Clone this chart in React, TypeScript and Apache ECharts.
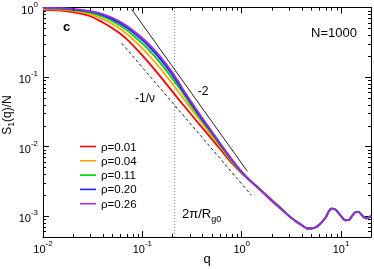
import { useEffect, useRef } from 'react';
import * as echarts from 'echarts';

const FONT = '"Liberation Sans", Arial, Helvetica, sans-serif';

// q grid (x values)
const qValues = [0.01, 0.015, 0.02, 0.03, 0.04, 0.05, 0.06, 0.07, 0.08, 0.1, 0.12, 0.15, 0.2, 0.25, 0.3, 0.4, 0.5, 0.6, 0.8, 1.0, 1.2, 1.5, 2, 2.5,
  3, 3.5, 4, 4.5, 5, 5.5, 6, 7, 7.5, 8, 8.5, 9, 10, 11, 12, 13, 14, 15, 16, 17, 18, 19, 20];

// S1(q)/N, q = 0.01 .. 2.5
const rho001Head = [0.927, 0.906, 0.857, 0.749, 0.608, 0.503, 0.418, 0.347, 0.288, 0.2055, 0.1524, 0.1037, 0.0621, 0.042, 0.0306, 0.01868, 0.0128, 0.00937, 0.00572, 0.0041, 0.00328, 0.0025, 0.00172, 0.00129];
const rho004Head = [0.952, 0.935, 0.895, 0.802, 0.68, 0.578, 0.49, 0.414, 0.351, 0.259, 0.1956, 0.1349, 0.0801, 0.0527, 0.0372, 0.0219, 0.0142, 0.0102, 0.006, 0.00415, 0.00331, 0.00249, 0.00171, 0.00128];
const rho011Head = [0.97, 0.956, 0.922, 0.841, 0.736, 0.637, 0.548, 0.469, 0.403, 0.304, 0.233, 0.1622, 0.0957, 0.0618, 0.0415, 0.0234, 0.0153, 0.0107, 0.00618, 0.0042, 0.00328, 0.00248, 0.00169, 0.00127];
const rho020Head = [0.982, 0.971, 0.942, 0.869, 0.777, 0.68, 0.591, 0.51, 0.443, 0.339, 0.262, 0.1838, 0.1081, 0.0665, 0.045, 0.0248, 0.016, 0.0111, 0.00635, 0.00428, 0.00329, 0.00246, 0.00167, 0.00126];
const rho026Head = [0.99, 0.98, 0.955, 0.888, 0.806, 0.711, 0.623, 0.541, 0.472, 0.3655, 0.2846, 0.2002, 0.1175, 0.071, 0.0475, 0.0259, 0.0165, 0.0114, 0.00648, 0.00435, 0.0033, 0.00245, 0.00166, 0.00125];
// common high-q part, q = 3 .. 20 (curves coincide)
const sharedTail = [0.001, 0.000843, 0.000744, 0.000668, 0.000663, 0.000685, 0.000744, 0.000952, 0.00116, 0.00128, 0.00127, 0.0012, 0.001, 0.000869, 0.000878, 0.00102, 0.00114, 0.00114, 0.00105, 0.000958, 0.000927, 0.000952, 0.001];

const seriesNames = ['ρ=0.01', 'ρ=0.04', 'ρ=0.11', 'ρ=0.20', 'ρ=0.26'];
const seriesColors = ['#ff0000', '#ffa500', '#00d000', '#2020ff', '#9b30d9'];
const seriesHeads = [rho001Head, rho004Head, rho011Head, rho020Head, rho026Head];

// guide lines
const slope2Q = [0.078, 1.14];
const slope2S = [0.94, 0.0044];
const slopeNuQ = [0.062, 1.25];
const slopeNuS = [0.306, 0.002];
const qRg0 = 0.211;

// axes
const xMin = 0.01, xMax = 20, yMin = 0.0005, yMax = 1;
const xMinorTicks = [0.02, 0.03, 0.04, 0.05, 0.06, 0.07, 0.08, 0.09, 0.2, 0.3, 0.4, 0.5, 0.6, 0.7, 0.8, 0.9, 2, 3, 4, 5, 6, 7, 8, 9];
const yMinorTicks = [0.0006, 0.0007, 0.0008, 0.0009, 0.002, 0.003, 0.004, 0.005, 0.006, 0.007, 0.008, 0.009, 0.02, 0.03, 0.04, 0.05, 0.06, 0.07, 0.08, 0.09, 0.2, 0.3, 0.4, 0.5, 0.6, 0.7, 0.8, 0.9];

const powLabel = (v: number) => {
  const e = Math.log10(v);
  const r = Math.round(e);
  if (Math.abs(e - r) > 1e-6) return '';
  return `{b|10}{s|${r}}`;
};
const tickRich = {
  b: { fontSize: 11, fontFamily: FONT, color: '#000', lineHeight: 15, verticalAlign: 'bottom' },
  s: { fontSize: 8, fontFamily: FONT, color: '#000', verticalAlign: 'top' },
};

export default function App() {
  const ref = useRef<HTMLDivElement>(null);
  useEffect(() => {
    const chart = echarts.init(ref.current!, null, { renderer: 'svg' });
    const curveSeries = seriesHeads.map((head, i) => ({
      name: seriesNames[i],
      type: 'line',
      data: qValues.map((q, k) => [q, head.concat(sharedTail)[k]]),
      showSymbol: false,
      symbol: 'none',
      smooth: 0.3,
      lineStyle: { color: seriesColors[i], width: 1.8 },
      itemStyle: { color: seriesColors[i] },
      z: 3 + i,
      silent: true,
    }));
    const tickData: number[][] = [
      ...xMinorTicks.map((v) => [v, 0.001, 0]),
      ...yMinorTicks.map((v) => [0.1, v, 1]),
    ];
    const option: any = {
      animation: false,
      grid: { left: 43, right: 2.5, top: 7, bottom: 32, containLabel: false },
      xAxis: [
        {
          type: 'log', logBase: 10, min: xMin, max: xMax, position: 'bottom',
          axisLine: { show: true, onZero: false, lineStyle: { color: '#000', width: 1 } },
          axisTick: { show: true, inside: true, length: 6, lineStyle: { color: '#000' } },
          axisLabel: { show: true, formatter: powLabel, rich: tickRich, margin: 2, color: '#000' },
          splitLine: { show: false }, minorTick: { show: false },
        },
        {
          type: 'log', logBase: 10, min: xMin, max: xMax, position: 'top',
          axisLine: { show: true, onZero: false, lineStyle: { color: '#000', width: 1 } },
          axisTick: { show: true, inside: true, length: 6, lineStyle: { color: '#000' } },
          axisLabel: { show: false }, splitLine: { show: false },
        },
      ],
      yAxis: [
        {
          type: 'log', logBase: 10, min: yMin, max: yMax, position: 'left',
          axisLine: { show: true, onZero: false, lineStyle: { color: '#000', width: 1 } },
          axisTick: { show: true, inside: true, length: 6, lineStyle: { color: '#000' } },
          axisLabel: { show: true, formatter: powLabel, rich: tickRich, margin: 5, color: '#000' },
          splitLine: { show: false },
        },
        {
          type: 'log', logBase: 10, min: yMin, max: yMax, position: 'right',
          axisLine: { show: true, onZero: false, lineStyle: { color: '#000', width: 1 } },
          axisTick: { show: true, inside: true, length: 6, lineStyle: { color: '#000' } },
          axisLabel: { show: false }, splitLine: { show: false },
        },
      ],
      legend: {
        orient: 'vertical', left: 80, top: 139.5, padding: 0, itemGap: 0.3,
        itemWidth: 16, itemHeight: 1.6, icon: 'rect',
        data: seriesNames,
        textStyle: { fontSize: 11.5, fontFamily: FONT, color: '#000', lineHeight: 14 },
        selectedMode: false,
      },
      series: [
        {
          type: 'custom', silent: true, z: 10,
          dimensions: ['x', 'y', 'k'],
          encode: { x: 0, y: 1 },
          data: tickData,
          renderItem: (_p: any, api: any) => {
            const v = api.value(0), w = api.value(1), k = api.value(2);
            const st = { stroke: '#000', lineWidth: 1 };
            if (k === 0) {
              const b = api.coord([v, yMin]);
              const t = api.coord([v, yMax]);
              const x = Math.round(b[0]) + 0.5;
              return {
                type: 'group', children: [
                  { type: 'line', shape: { x1: x, y1: b[1], x2: x, y2: b[1] - 3 }, style: st },
                  { type: 'line', shape: { x1: x, y1: t[1], x2: x, y2: t[1] + 3 }, style: st },
                ],
              };
            }
            const l = api.coord([xMin, w]);
            const r = api.coord([xMax, w]);
            const y = Math.round(l[1]) + 0.5;
            return {
              type: 'group', children: [
                { type: 'line', shape: { x1: l[0], y1: y, x2: l[0] + 3, y2: y }, style: st },
                { type: 'line', shape: { x1: r[0], y1: y, x2: r[0] - 3, y2: y }, style: st },
              ],
            };
          },
        },
        {
          type: 'line', name: 'rg', data: [[qRg0, yMin], [qRg0, yMax]], showSymbol: false, symbol: 'none', silent: true,
          lineStyle: { color: '#808080', width: 1, type: [1, 2] }, z: 1,
        },
        {
          type: 'line', name: 'slope2', data: slope2Q.map((q, i) => [q, slope2S[i]]), showSymbol: false, symbol: 'none', silent: true,
          lineStyle: { color: '#222', width: 1 }, z: 2,
        },
        {
          type: 'line', name: 'slopeNu', data: slopeNuQ.map((q, i) => [q, slopeNuS[i]]), showSymbol: false, symbol: 'none', silent: true,
          lineStyle: { color: '#222', width: 1, type: [3, 2.5] }, z: 2,
        },
        ...curveSeries,
      ],
      graphic: [
        { type: 'text', x: 66.5, y: 26, style: { text: 'c', fontSize: 13, fontWeight: 'bold', fontFamily: FONT, fill: '#000', align: 'center', verticalAlign: 'middle' } },
        { type: 'text', x: 334, y: 32.5, style: { text: 'N=1000', fontSize: 13, fontFamily: FONT, fill: '#000', align: 'center', verticalAlign: 'middle' } },
        { type: 'text', x: 203, y: 91, style: { text: '-2', fontSize: 12, fontFamily: FONT, fill: '#000', align: 'center', verticalAlign: 'middle' } },
        { type: 'text', x: 145, y: 97.5, style: { text: '-1/ν', fontSize: 12, fontFamily: FONT, fill: '#000', align: 'center', verticalAlign: 'middle' } },
        {
          type: 'text', x: 182, y: 207, style: {
            text: '{a|2π/R}{b|g0}', fill: '#000', align: 'left', verticalAlign: 'top',
            rich: {
              a: { fontSize: 13, fontFamily: FONT, color: '#000', verticalAlign: 'top' },
              b: { fontSize: 9, fontFamily: FONT, color: '#000', verticalAlign: 'bottom', padding: [7, 0, 0, 0] },
            },
          },
        },
        { type: 'text', x: 207, y: 258, style: { text: 'q', fontSize: 13, fontFamily: FONT, fill: '#000', align: 'center', verticalAlign: 'middle' } },
        {
          type: 'text', x: 8, y: 115, rotation: Math.PI / 2, style: {
            text: '{a|S}{b|1}{a|(q)/N}', fill: '#000', align: 'center', verticalAlign: 'middle',
            rich: {
              a: { fontSize: 12, fontFamily: FONT, color: '#000', verticalAlign: 'top' },
              b: { fontSize: 8.5, fontFamily: FONT, color: '#000', verticalAlign: 'bottom', padding: [6, 0, 0, 0] },
            },
          },
        },
      ],
    };
    chart.setOption(option);
    return () => chart.dispose();
  }, []);
  return <div ref={ref} style={{ position: 'fixed', left: 0, top: 0, width: 374, height: 269 }} />;
}
